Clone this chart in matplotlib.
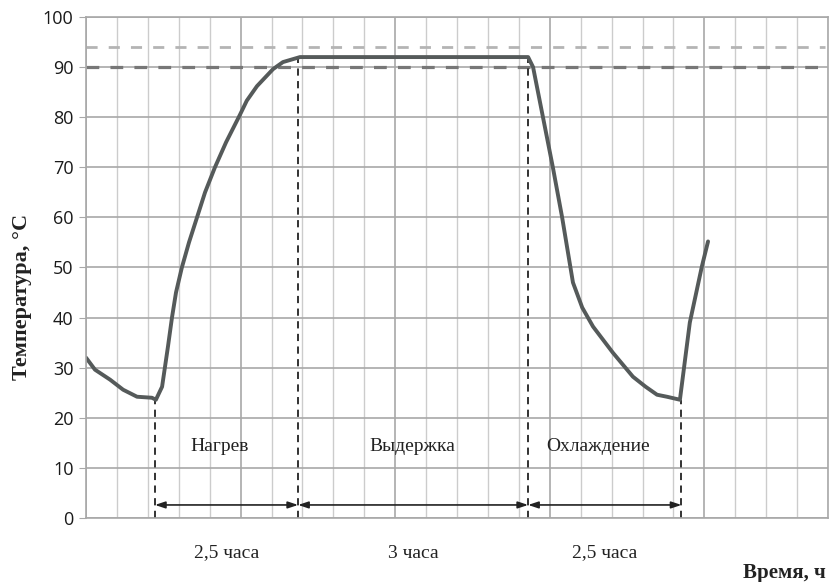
import matplotlib
matplotlib.use("Agg")
import matplotlib.pyplot as plt
from matplotlib.ticker import MultipleLocator

# Temperature curve (x in grid cells, y in degC)
time_pts = [0.0, 0.29, 0.78, 1.2, 1.65, 2.13, 2.26, 2.46, 2.65, 2.78, 2.91, 3.1,
            3.33, 3.59, 3.85, 4.17, 4.53, 4.98, 5.2, 5.53, 6.05, 6.37, 6.92,
            14.3, 14.46, 14.78, 15.1, 15.4, 15.75, 16.05, 16.4, 17.04, 17.69,
            18.1, 18.47, 18.79, 19.21, 19.53, 19.92, 20.12]
temp_pts = [32, 29.6, 27.6, 25.6, 24.2, 24.0, 23.6, 26.2, 34.2, 40, 45, 50,
            55, 60, 65, 70, 75, 80.5, 83.3, 86.2, 89.6, 91, 92,
            92, 90, 80, 70, 60, 47, 42, 38.2, 33, 28.2,
            26.2, 24.6, 24.2, 23.6, 39, 50.2, 55.2]

# Stage boundaries and their temperatures on the curve
bounds = [2.23, 6.86, 14.3, 19.26]
bound_temps = [23.6, 92, 92, 23.6]
stage_names = ['Нагрев', 'Выдержка', 'Охлаждение']
stage_durations = ['2,5 часа', '3 часа', '2,5 часа']
ref_levels = [90, 94]

fig = plt.figure(figsize=(8.32, 5.82), dpi=100)
ax = fig.add_axes([0.1034, 0.11, 0.8918, 0.8608])

ax.set_xlim(0, 24)
ax.set_ylim(0, 100)

# grid
ax.xaxis.set_major_locator(MultipleLocator(5))
ax.xaxis.set_minor_locator(MultipleLocator(1))
ax.yaxis.set_major_locator(MultipleLocator(10))
ax.grid(which='minor', axis='x', color='#cccccc', linewidth=1.0)
ax.grid(which='major', axis='x', color='#a8a8a8', linewidth=1.2)
ax.grid(which='major', axis='y', color='#a8a8a8', linewidth=1.2)
ax.set_axisbelow(True)
for s in ax.spines.values():
    s.set_color('#a8a8a8')
    s.set_linewidth(1.2)
ax.tick_params(axis='x', which='both', length=0, labelbottom=False)
ax.tick_params(axis='y', length=5, color='#a8a8a8', labelsize=13, pad=4)
for lbl in ax.get_yticklabels():
    lbl.set_fontfamily('Open Sans')
    lbl.set_color('#1a1a1a')

# reference levels
ax.plot([0, 23.9], [ref_levels[1], ref_levels[1]], color='#b4b4b4', lw=2.0,
        dashes=(4, 4))
ax.plot([0, 23.9], [ref_levels[0], ref_levels[0]], color='#777777', lw=2.3,
        dashes=(4, 3.5))

# boundaries
for b, t in zip(bounds, bound_temps):
    ax.plot([b, b], [0, t], color='#222222', lw=1.3, dashes=(4, 3))

# curve
ax.plot(time_pts, temp_pts, color='#555a5a', lw=2.8, solid_capstyle='round',
        solid_joinstyle='round')

# duration arrows and labels
serif = 'Liberation Serif'
for i in range(3):
    x0, x1 = bounds[i], bounds[i + 1]
    ax.annotate('', xy=(x1, 2.6), xytext=(x0, 2.6),
                arrowprops=dict(arrowstyle='<|-|>,head_length=0.6,head_width=0.2',
                                color='#222222', lw=1.2, shrinkA=0, shrinkB=0))
    ax.text((x0 + x1) / 2, -7, stage_durations[i], ha='center', va='center',
            fontsize=14, family=serif, color='#222222')

label_x = [4.33, 10.55, 16.55]
for name, lx in zip(stage_names, label_x):
    ax.text(lx, 14.2, name, ha='center', va='center', fontsize=14,
            family=serif, color='#222222')

ax.text(22.6, -11, 'Время, ч', ha='center', va='center', fontsize=15,
        fontweight='bold', family=serif, color='#222222', clip_on=False)
fig.text(0.027, 0.49, 'Температура, °С', rotation=90, ha='center', va='center',
         fontsize=16, fontweight='bold', family=serif, color='#222222')

fig.savefig('out.png', dpi=100)
